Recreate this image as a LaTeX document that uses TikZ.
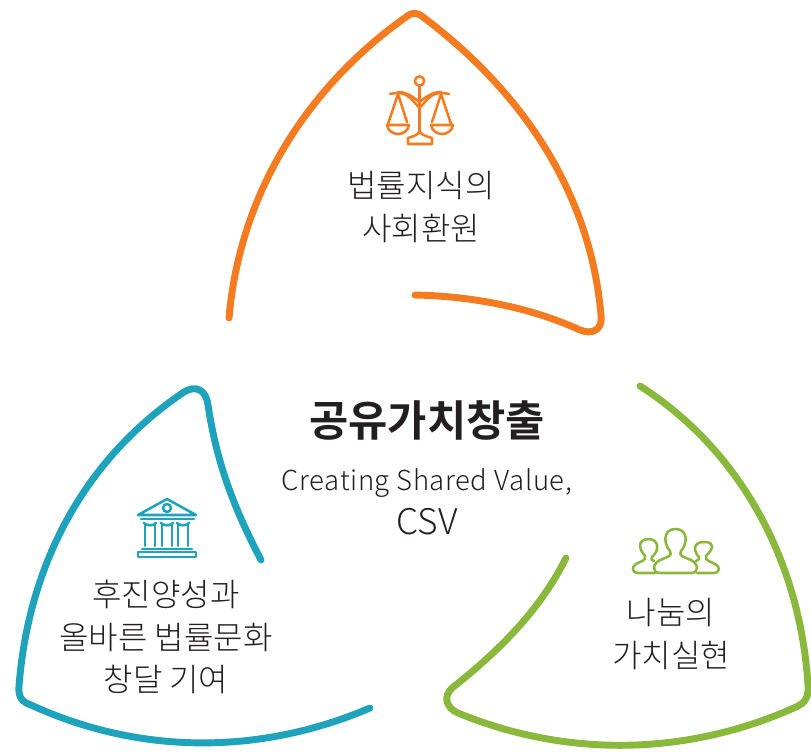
\documentclass[tikz,border=0pt]{standalone}
\usepackage{fontspec}
\setmainfont{Noto Sans CJK KR Light}[BoldFont={Noto Sans CJK KR Bold}]
\usetikzlibrary{positioning}
\definecolor{lawOrange}{HTML}{F47B20}
\definecolor{cultTeal}{HTML}{1FA3BC}
\definecolor{shareGreen}{HTML}{8AB83C}
\definecolor{inkDark}{HTML}{231F20}
\begin{document}
\begin{tikzpicture}[x=0.75pt, y=-0.75pt, every node/.style={inner sep=0pt, align=center, text=inkDark}]
\tikzstyle{petal} = [line width=5.2pt, line cap=round, line join=round]
\tikzstyle{icon} = [line width=1.9pt, line cap=round, line join=round]
\tikzstyle{label} = [font=\fontsize{24}{32}\selectfont]
\useasboundingbox (0,0) rectangle (811,751);

% petals
\draw[petal, lawOrange] (229,318) .. controls (240,190) and (310,85) .. (406,17)
  .. controls (412,12) and (417,12) .. (423,17)
  .. controls (520,90) and (590,190) .. (601,315)
  .. controls (603,330) and (592,335) .. (580,330)
  .. controls (530,307) and (470,296) .. (415,295);
\draw[petal, cultTeal] (261,560) .. controls (235,510) and (217,465) .. (208,405)
  .. controls (206,389) and (195,385) .. (184,392)
  .. controls (80,462) and (28,570) .. (19,686)
  .. controls (18,697) and (22,702) .. (31,705)
  .. controls (140,755) and (260,755) .. (370,708);
\draw[petal, shareGreen] (640,386) .. controls (740,450) and (800,560) .. (808,685)
  .. controls (809,697) and (805,703) .. (796,707)
  .. controls (685,757) and (565,757) .. (458,713)
  .. controls (446,708) and (443,696) .. (452,688)
  .. controls (500,650) and (540,610) .. (566,558);

% scales
\begin{scope}[icon, lawOrange]
\node[draw=lawOrange, line width=1.9pt, circle, minimum size=7pt] (ring) at (419.5,81) {};
\draw (ring.south) -- (419.5,131);
\draw (419.5,108) .. controls (412,100) and (408,93) .. (398,93) .. controls (394,93) and (390,94) .. (390,94);
\draw (419.5,102) .. controls (412,96) and (406,92) .. (398,92);
\draw (419.5,108) .. controls (427,100) and (431,93) .. (441,93) .. controls (445,93) and (449,94) .. (449,94);
\draw (419.5,102) .. controls (427,96) and (433,92) .. (441,92);
\draw (398,94) -- (388,124) (398,94) -- (407,122);
\draw (441,94) -- (432,122) (441,94) -- (451,124);
\draw (387,125) -- (409,125) .. controls (407,137) and (389,137) .. (387,125) -- cycle;
\draw (431,125) -- (453,125) .. controls (451,137) and (433,137) .. (431,125) -- cycle;
\draw (419.5,131) .. controls (419,134) and (415,136) .. (408,138) -- (408,144) -- (432,144) -- (432,138) .. controls (425,136) and (420,134) .. (419.5,131);
\end{scope}

% building
\begin{scope}[icon, cultTeal]
\draw (167,499) -- (138,515) -- (196,515) -- cycle;
\node[draw=cultTeal, line width=1.9pt, circle, minimum size=6pt] (disc) at (167,508) {};
\draw (141,519) -- (194,519);
\foreach \col in {150,167,183}{
  \draw (\col-5,525) -- (\col-5,546) (\col+5,525) -- (\col+5,546);
  \draw (\col-6,523) .. controls (\col-4,526) and (\col+4,526) .. (\col+6,523);
}
\draw (142,549) -- (192,549);
\draw (138,552) rectangle (196,557);
\end{scope}

% people
\begin{scope}[icon, shareGreen]
\draw (655,573) -- (638,573) .. controls (632,573) and (631,567) .. (636,564)
  .. controls (641,561) and (646,561) .. (645,556)
  .. controls (639,549) and (637,540) .. (648,539)
  .. controls (659,539) and (660,550) .. (652,557) .. controls (650,559) and (652,560) .. (654,561);
\draw (660,573) .. controls (652,573) and (652,564) .. (660,560)
  .. controls (667,557) and (673,556) .. (670,551)
  .. controls (664,545) and (662,529) .. (675.5,529)
  .. controls (689,529) and (687,545) .. (681,551)
  .. controls (678,556) and (684,557) .. (691,560)
  .. controls (699,564) and (699,573) .. (691,573) -- cycle;
\draw (697,573) -- (713,573) .. controls (720,573) and (721,567) .. (715,564)
  .. controls (710,561) and (705,561) .. (706,556)
  .. controls (713,549) and (716,542) .. (704,542)
  .. controls (693,542) and (693,551) .. (699,557) .. controls (700,559) and (698,560) .. (696,561);
\end{scope}

% labels
\node[label] (law) at (421,207) {법률지식의\\사회환원};
\node[label] (cult) at (166,637) {후진양성과\\올바른 법률문화\\창달 기여};
\node[label] (share) at (671,634) {나눔의\\가치실현};
\node[font=\bfseries\fontsize{32}{38}\selectfont] (title) at (427,420) {공유가치창출};
\node[font=\fontsize{20.6}{26}\selectfont\addfontfeature{LetterSpace=2.2}] (sub) at (427,483) {Creating Shared Value,};
\node[font=\fontsize{26.5}{32}\selectfont] (csv) at (427,522) {CSV};
\end{tikzpicture}
\end{document}
